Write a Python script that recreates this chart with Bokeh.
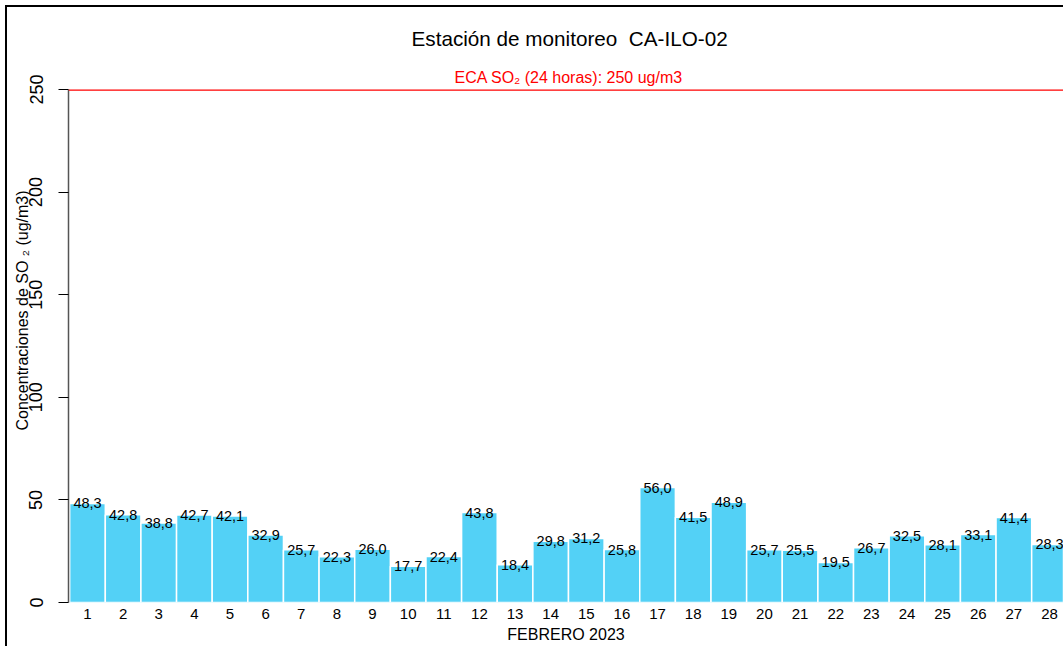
from bokeh.plotting import figure
from bokeh.models import Range1d, FixedTicker, Span, Title, ColumnDataSource
from bokeh.core.properties import value
from bokeh.embed import file_html
from bokeh.resources import INLINE

days = list(range(1, 29))
so2 = [48.3, 42.8, 38.8, 42.7, 42.1, 32.9, 25.7, 22.3, 26.0, 17.7, 22.4, 43.8, 18.4, 29.8,
       31.2, 25.8, 56.0, 41.5, 48.9, 25.7, 25.5, 19.5, 26.7, 32.5, 28.1, 33.1, 41.4, 28.3]
labels = [f"{v:.1f}".replace(".", ",") for v in so2]
y_ticks = [0, 50, 100, 150, 200, 250]
eca_limit = 250
title_text = "Estación de monitoreo \u00a0CA-ILO-02"
eca_text = "ECA SO\u2082 (24 horas): 250 ug/m3"
xlab_text = "FEBRERO 2023"
ylab_text = "Concentraciones de SO \u2082 (ug/m3)"

FONT = "Liberation Sans"

src = ColumnDataSource(dict(x=days, top=so2, lab=labels))

p = figure(width=1063, height=646, output_backend="svg", toolbar_location=None,
           x_range=Range1d(0.467, 28.393), y_range=Range1d(0, 250),
           min_border_left=68, min_border_right=0, min_border_top=89, min_border_bottom=44,
           title=None)
p.outline_line_color = None
p.xgrid.visible = False
p.ygrid.visible = False
p.background_fill_color = "white"
p.border_fill_alpha = 0
p.styles = {"box-shadow": "inset 5px 5px 0 0 white, inset 7px 7px 0 0 black",
            "background-color": "white"}

p.vbar(x="x", top="top", width=1.0, bottom=0, source=src,
       fill_color="#53D1F6", line_color="white", line_width=1.5)

p.text(x="x", y="top", text="lab", source=src, text_align="center",
       text_baseline="alphabetic", text_font=value(FONT), text_font_size="14.5px",
       text_color="black")

p.add_layout(Span(location=eca_limit, dimension="width", line_color="#FF0000", line_width=2.5))

# x axis
p.xaxis.ticker = FixedTicker(ticks=days)
p.xaxis.axis_line_color = None
p.xaxis.major_tick_line_color = None
p.xaxis.minor_tick_line_color = None
p.xaxis.major_label_standoff = 0
p.xaxis.major_label_text_font = FONT
p.xaxis.major_label_text_font_size = "15px"
p.xaxis.major_label_text_color = "black"
p.xaxis.axis_label = xlab_text
p.xaxis.axis_label_text_font = FONT
p.xaxis.axis_label_text_font_size = "16px"
p.xaxis.axis_label_text_font_style = "normal"
p.xaxis.axis_label_text_color = "black"
p.xaxis.axis_label_standoff = 4

# y axis
p.yaxis.ticker = FixedTicker(ticks=y_ticks)
p.yaxis.axis_line_color = "#555555"
p.yaxis.axis_line_width = 1.5
p.yaxis.major_tick_line_color = "black"
p.yaxis.major_tick_out = 10
p.yaxis.major_tick_in = 0
p.yaxis.minor_tick_line_color = None
p.yaxis.major_label_orientation = "vertical"
p.yaxis.major_label_standoff = 16
p.yaxis.major_label_text_font = FONT
p.yaxis.major_label_text_font_size = "18px"
p.yaxis.major_label_text_color = "black"

# y label as a side title (allows shifting along the axis)
p.add_layout(Title(text=ylab_text, align="left", offset=172, text_font=FONT,
                   text_font_size="16px", text_font_style="normal", text_color="black",
                   standoff=-9), "left")

# titles (first added is nearest the frame)
p.add_layout(Title(text=eca_text, align="left", offset=386, text_font=FONT, text_font_size="16px",
                   text_font_style="normal", text_color="#FF0000", standoff=8), "above")
p.add_layout(Title(text=title_text, align="left", offset=343, text_font=FONT, text_font_size="20.7px",
                   text_font_style="normal", text_color="black", standoff=26), "above")

open("out.html", "w").write(file_html(p, INLINE))
